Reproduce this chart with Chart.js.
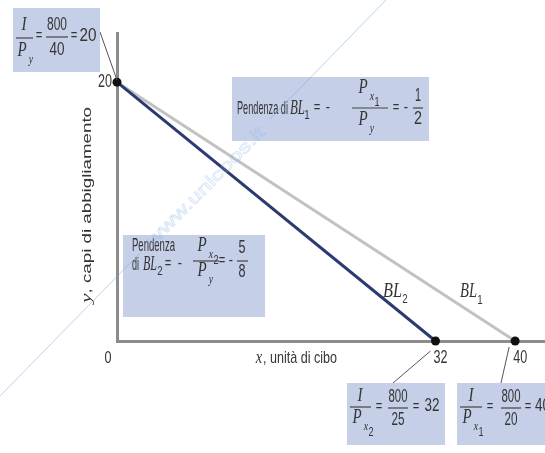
<!DOCTYPE html>
<html>
<head>
<meta charset="utf-8">
<script src="https://cdn.jsdelivr.net/npm/chart.js@4"></script>
<style>
html, body { margin: 0; padding: 0; background: #fff; }
#wrap { width: 545px; height: 453px; }
</style>
</head>
<body>
<div id="wrap"><canvas id="budgetChart" width="545" height="453"></canvas></div>
<script>
// rette di bilancio
const lineNames = ['BL1', 'BL2'];
const yIntercepts = [20, 20];   // I / Py
const xIntercepts = [40, 32];   // I / Px1, I / Px2
const xTicks = [0, 32, 40];
const yTicks = [20];
const xMax = 43;
const yMax = 23.8;

const lineColors = { BL1: '#c2c2c2', BL2: '#2c3a72' };
const AXIS = '#8c8c8c';
const BOX = '#c5cfe7';
const INK = '#353535';
const SANS = '"Liberation Sans", Arial, sans-serif';
const SERIF = '"Liberation Serif", "Times New Roman", serif';

// punti di intercetta
const points = [{ x: 0, y: yIntercepts[0] }].concat(xIntercepts.map(v => ({ x: v, y: 0 })));

const datasets = [{
    label: 'intercette',
    data: points,
    showLine: false,
    pointRadius: 4.5,
    pointBackgroundColor: '#111',
    pointBorderWidth: 0,
    clip: false
}];
// BL2 sopra BL1 (i primi dataset vengono disegnati per ultimi)
for (let i = lineNames.length - 1; i >= 0; i--) {
    datasets.push({
        label: lineNames[i],
        data: [{ x: 0, y: yIntercepts[i] }, { x: xIntercepts[i], y: 0 }],
        showLine: true,
        borderColor: lineColors[lineNames[i]],
        borderWidth: 3,
        pointRadius: 0,
        clip: false
    });
}

// testo compresso in orizzontale (il grafico originale e' schiacciato)
function put(ctx, s, x, y, size, o) {
    o = o || {};
    ctx.save();
    ctx.font = (o.it ? 'italic ' : '') + size + 'px ' + (o.serif ? SERIF : SANS);
    const nat = ctx.measureText(s).width;
    const sx = o.w ? o.w / nat : (o.sx || 0.75);
    ctx.translate(x, y);
    ctx.scale(sx, 1);
    ctx.textAlign = o.align || 'center';
    ctx.textBaseline = 'middle';
    ctx.fillStyle = o.color || INK;
    ctx.fillText(s, 0, 0);
    ctx.restore();
}
function seg(ctx, x1, y1, x2, y2, w, c) {
    ctx.save();
    ctx.strokeStyle = c || '#444';
    ctx.lineWidth = w || 1;
    ctx.beginPath();
    ctx.moveTo(x1, y1);
    ctx.lineTo(x2, y2);
    ctx.stroke();
    ctx.restore();
}
function bar(ctx, x1, x2, y) { seg(ctx, x1, y, x2, y, 1.2, '#444'); }
function box(ctx, x, y, w, h) { ctx.fillStyle = BOX; ctx.fillRect(x, y, w, h); }
function mathI(ctx, x, y) { put(ctx, 'I', x, y, 19, { it: true, serif: true, sx: 0.8 }); }
function mathP(ctx, x, y, sub1, sub2) {
    put(ctx, 'P', x, y, 20, { it: true, serif: true, sx: 0.75 });
    put(ctx, sub1, x + 9, y + 9, 13, { it: true, serif: true, sx: 0.75 });
    if (sub2) put(ctx, sub2, x + 14, y + 14, 13, { sx: 0.7 });
}
function eq(ctx, x, y) { put(ctx, '=', x, y, 16, { sx: 0.7 }); }
function minus(ctx, x, y) { put(ctx, '-', x, y, 16, { sx: 0.8 }); }

const annotations = {
    id: 'annotations',
    beforeDraw(chart) {
        const ctx = chart.ctx;
        ctx.save();
        ctx.fillStyle = '#fff';
        ctx.fillRect(0, 0, chart.width, chart.height);
        ctx.restore();
    },
    afterDraw(chart) {
        const ctx = chart.ctx;
        const xs = chart.scales.x, ys = chart.scales.y;
        const yAxisY = ys.getPixelForValue(0);

        // etichette degli assi
        put(ctx, String(xTicks[0]), xs.getPixelForValue(xTicks[0]) - 9, yAxisY + 17, 17, { w: 7 });
        for (let i = 1; i < xTicks.length; i++) {
            put(ctx, String(xTicks[i]), xs.getPixelForValue(xTicks[i]) + 5, yAxisY + 17, 18, { w: 14 });
        }
        yTicks.forEach(v => {
            put(ctx, String(v), xs.getPixelForValue(0) - 12, ys.getPixelForValue(v), 18, { w: 14 });
        });

        // titolo asse x
        put(ctx, 'x', 259, 358, 18, { it: true, serif: true, sx: 0.8 });
        put(ctx, ', unità di cibo', 263, 358, 17, { align: 'left', w: 74 });

        // titolo asse y (ruotato)
        ctx.save();
        ctx.translate(87, 303);
        ctx.rotate(-Math.PI / 2);
        ctx.font = 'italic 15px ' + SERIF;
        const wy = ctx.measureText('y').width;
        ctx.font = '13px ' + SANS;
        const wr = ctx.measureText(', capi di abbigliamento').width;
        const k = 196 / (wy + wr);
        ctx.scale(k, 1);
        ctx.textBaseline = 'middle';
        ctx.fillStyle = INK;
        ctx.font = 'italic 15px ' + SERIF;
        ctx.fillText('y', 0, 0);
        ctx.font = '13px ' + SANS;
        ctx.fillText(', capi di abbigliamento', wy, 0);
        ctx.restore();

        // nomi delle rette
        put(ctx, 'BL', 383, 292, 20, { it: true, serif: true, align: 'left', w: 19 });
        put(ctx, '2', 405, 299, 13, { sx: 0.75 });
        put(ctx, 'BL', 460, 292, 20, { it: true, serif: true, align: 'left', w: 17 });
        put(ctx, '1', 480, 300, 13, { sx: 0.75 });

        // linee di richiamo
        const p0 = ys.getPixelForValue(yIntercepts[0]);
        seg(ctx, 100, 32, xs.getPixelForValue(0), p0 - 2, 1, '#555');
        const p32 = xs.getPixelForValue(xIntercepts[1]);
        const p40 = xs.getPixelForValue(xIntercepts[0]);
        seg(ctx, p32 - 5, yAxisY + 10, 393, 383, 1, '#555');
        seg(ctx, p40 - 6, yAxisY + 6, 501, 383, 1, '#555');

        // riquadro I/Py
        box(ctx, 13, 8, 87, 64);
        mathI(ctx, 24, 25);
        bar(ctx, 16, 33, 38);
        mathP(ctx, 22, 51, 'y');
        eq(ctx, 39, 36);
        put(ctx, '800', 57, 25, 18, { w: 20 });
        bar(ctx, 46, 68, 37);
        put(ctx, '40', 57, 50, 18, { w: 15 });
        eq(ctx, 74, 36);
        put(ctx, '20', 88, 36, 18, { w: 17 });

        // riquadro pendenza BL1
        box(ctx, 232, 77, 197, 64);
        put(ctx, 'Pendenza di', 237, 109, 19, { align: 'left', w: 51 });
        put(ctx, 'BL', 290, 109, 20, { it: true, serif: true, align: 'left', w: 15 });
        put(ctx, '1', 307, 115, 13, { sx: 0.75 });
        eq(ctx, 317, 108);
        minus(ctx, 328, 108);
        mathP(ctx, 363, 88, 'x', '1');
        bar(ctx, 352, 388, 108);
        mathP(ctx, 363, 120, 'y');
        eq(ctx, 396, 108);
        minus(ctx, 406, 108);
        put(ctx, '1', 418, 96, 18, { w: 6 });
        bar(ctx, 413, 423, 108);
        put(ctx, '2', 418, 119, 18, { w: 8 });

        // riquadro pendenza BL2
        box(ctx, 123, 235, 142, 82);
        put(ctx, 'Pendenza', 132, 246, 19, { align: 'left', w: 43 });
        put(ctx, 'di', 132, 265, 19, { align: 'left', w: 7 });
        put(ctx, 'BL', 143, 265, 20, { it: true, serif: true, align: 'left', w: 14 });
        put(ctx, '2', 160, 271, 13, { sx: 0.75 });
        eq(ctx, 168, 264);
        minus(ctx, 180, 264);
        mathP(ctx, 202, 246, 'x', '2');
        bar(ctx, 193, 219, 261);
        mathP(ctx, 202, 271, 'y');
        eq(ctx, 222, 261);
        minus(ctx, 231, 261);
        put(ctx, '5', 242, 248, 18, { w: 7 });
        bar(ctx, 237, 248, 261);
        put(ctx, '8', 242, 272, 18, { w: 7 });

        // riquadro I/Px2
        box(ctx, 347, 383, 98, 62);
        mathI(ctx, 360, 396);
        bar(ctx, 350, 371, 407);
        mathP(ctx, 357, 418, 'x', '2');
        eq(ctx, 379, 407);
        put(ctx, '800', 398, 397, 18, { w: 19 });
        bar(ctx, 388, 408, 408);
        put(ctx, '25', 398, 420, 18, { w: 13 });
        eq(ctx, 416, 407);
        put(ctx, '32', 432, 406, 18, { w: 15 });

        // riquadro I/Px1
        box(ctx, 457, 383, 90, 62);
        mathI(ctx, 471, 396);
        bar(ctx, 460, 482, 407);
        mathP(ctx, 467, 418, 'x', '1');
        eq(ctx, 490, 407);
        put(ctx, '800', 511, 397, 18, { w: 19 });
        bar(ctx, 501, 521, 408);
        put(ctx, '20', 511, 420, 18, { w: 13 });
        eq(ctx, 528, 407);
        put(ctx, '40', 535, 406, 18, { align: 'left', w: 15 });

        // filigrana
        const wm = 'rgba(120, 168, 222, 0.5)';
        seg(ctx, 386, 0, 270, 119, 1, wm);
        seg(ctx, 140, 253, 0, 396, 1, wm);
        ctx.save();
        ctx.translate(206, 187);
        ctx.rotate(-0.79);
        ctx.font = '17px ' + SANS;
        const ww = ctx.measureText('www.unicoos.it').width;
        ctx.scale(160 / ww, 1);
        ctx.textAlign = 'center';
        ctx.textBaseline = 'middle';
        ctx.strokeStyle = 'rgba(140, 180, 228, 0.35)';
        ctx.lineWidth = 0.8;
        ctx.strokeText('www.unicoos.it', 0, 0);
        ctx.restore();
    }
};

new Chart(document.getElementById('budgetChart'), {
    type: 'scatter',
    data: { datasets: datasets },
    options: {
        responsive: false,
        animation: false,
        layout: { padding: { left: 117, top: 33, right: 0, bottom: 112 }, autoPadding: false },
        plugins: { legend: { display: false }, tooltip: { enabled: false } },
        scales: {
            x: {
                type: 'linear', min: 0, max: xMax,
                grid: { display: false, drawTicks: false },
                border: { display: true, color: AXIS, width: 3 },
                ticks: { display: false }
            },
            y: {
                type: 'linear', min: 0, max: yMax,
                grid: { display: false, drawTicks: false },
                border: { display: true, color: AXIS, width: 3 },
                ticks: { display: false }
            }
        }
    },
    plugins: [annotations]
});
</script>
</body>
</html>
